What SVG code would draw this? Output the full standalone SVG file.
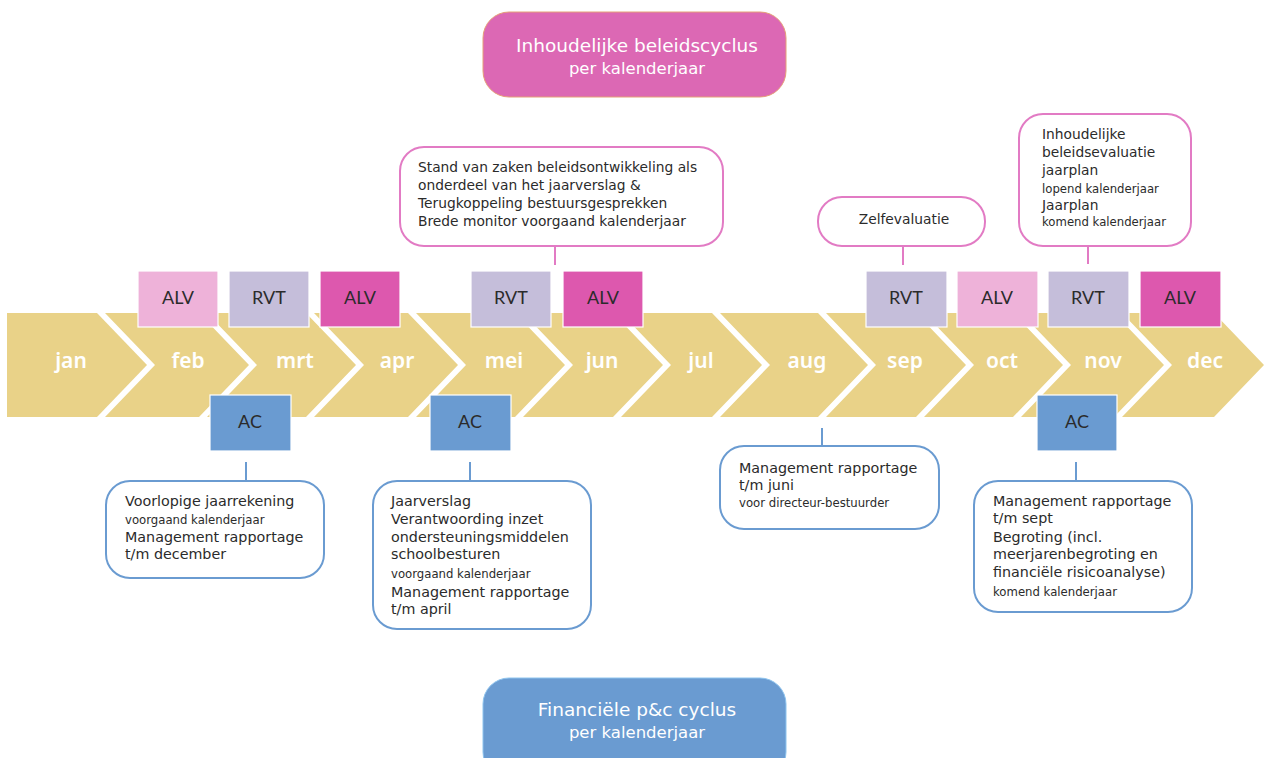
<svg xmlns="http://www.w3.org/2000/svg" width="1264" height="758" viewBox="0 0 1264 758">
<style>
.chev{fill:#E9D288}
.mon{font-family:"Noto Sans",Lato,sans-serif;font-weight:600;font-size:21px;fill:#fff;text-anchor:middle}
.tag{stroke:#fff;stroke-width:1.2}
.alv1{fill:#EEB2D9}
.alv2{fill:#DD58AE}
.rvt{fill:#C5BEDA}
.ac{fill:#6A9BD1}
.tl{font-family:Lato,"Noto Sans",sans-serif;font-size:18px;fill:#2b2b2b;text-anchor:middle}
.pbox{fill:#fff;stroke:#E27BC4;stroke-width:2}
.bbox{fill:#fff;stroke:#6A9BD1;stroke-width:2}
.t{font-family:"DejaVu Sans","Noto Sans",sans-serif;font-size:13.8px;fill:#2b2b2b}
.b{font-size:14.3px}
.s{font-size:11.7px}
.pl{stroke:#E27BC4;stroke-width:2;fill:none}
.bl{stroke:#6A9BD1;stroke-width:2;fill:none}
.hd{font-family:"DejaVu Sans","Noto Sans",sans-serif;fill:#fff;text-anchor:middle}
</style>
<rect width="1264" height="758" fill="#fff"/>
<g id="header">
<rect x="483" y="12" width="303" height="85" rx="26" fill="#DC68B4" stroke="#E5A078" stroke-width="1"/>
<text class="hd" x="637" y="52" font-size="18.5">Inhoudelijke beleidscyclus</text>
<text class="hd" x="637" y="74" font-size="16.5">per kalenderjaar</text>
</g>
<g id="footer">
<rect x="483" y="678" width="303" height="100" rx="26" fill="#6A9BD1" stroke="#8EC4EE" stroke-width="1"/>
<text class="hd" x="637" y="716" font-size="18.5">Financiële p&amp;c cyclus</text>
<text class="hd" x="637" y="738" font-size="16.5">per kalenderjaar</text>
</g>
<g id="months">
<g id="m-jan"><path class="chev" d="M7,313 H97 L147,365 L97,417 H7 Z"/><text class="mon" x="71" y="368">jan</text></g>
<g id="m-feb"><path class="chev" d="M105,313 H199 L249,365 L199,417 H105 L155,365 Z"/><text class="mon" x="188" y="368">feb</text></g>
<g id="m-mrt"><path class="chev" d="M207,313 H306 L356,365 L306,417 H207 L257,365 Z"/><text class="mon" x="295" y="368">mrt</text></g>
<g id="m-apr"><path class="chev" d="M314,313 H408 L458,365 L408,417 H314 L364,365 Z"/><text class="mon" x="397" y="368">apr</text></g>
<g id="m-mei"><path class="chev" d="M416,313 H515 L565,365 L515,417 H416 L466,365 Z"/><text class="mon" x="504" y="368">mei</text></g>
<g id="m-jun"><path class="chev" d="M523,313 H613 L663,365 L613,417 H523 L573,365 Z"/><text class="mon" x="602" y="368">jun</text></g>
<g id="m-jul"><path class="chev" d="M621,313 H712 L762,365 L712,417 H621 L671,365 Z"/><text class="mon" x="701" y="368">jul</text></g>
<g id="m-aug"><path class="chev" d="M720,313 H818 L868,365 L818,417 H720 L770,365 Z"/><text class="mon" x="807" y="368">aug</text></g>
<g id="m-sep"><path class="chev" d="M826,313 H916 L966,365 L916,417 H826 L876,365 Z"/><text class="mon" x="905" y="368">sep</text></g>
<g id="m-oct"><path class="chev" d="M924,313 H1013 L1063,365 L1013,417 H924 L974,365 Z"/><text class="mon" x="1002" y="368">oct</text></g>
<g id="m-nov"><path class="chev" d="M1021,313 H1114 L1164,365 L1114,417 H1021 L1071,365 Z"/><text class="mon" x="1103" y="368">nov</text></g>
<g id="m-dec"><path class="chev" d="M1122,313 H1214 L1264,365 L1214,417 H1122 L1172,365 Z"/><text class="mon" x="1205" y="368">dec</text></g>
</g>
<g id="connectors">
<line class="pl" x1="555" y1="246" x2="555" y2="265"/>
<line class="pl" x1="903" y1="246" x2="903" y2="265"/>
<line class="pl" x1="1088" y1="246" x2="1088" y2="264"/>
<line class="bl" x1="246" y1="462" x2="246" y2="481"/>
<line class="bl" x1="470" y1="462" x2="470" y2="481"/>
<line class="bl" x1="822" y1="428" x2="822" y2="446"/>
<line class="bl" x1="1076" y1="462" x2="1076" y2="481"/>
</g>
<g id="tag-alv-feb"><rect class="tag alv1" x="138" y="271" width="80" height="56"/><text class="tl" x="178" y="304">ALV</text></g>
<g id="tag-rvt-mrt"><rect class="tag rvt" x="229" y="271" width="80" height="56"/><text class="tl" x="269" y="304">RVT</text></g>
<g id="tag-alv-apr"><rect class="tag alv2" x="320" y="271" width="80" height="56"/><text class="tl" x="360" y="304">ALV</text></g>
<g id="tag-rvt-mei"><rect class="tag rvt" x="471" y="271" width="80" height="56"/><text class="tl" x="511" y="304">RVT</text></g>
<g id="tag-alv-jun"><rect class="tag alv2" x="563" y="271" width="80" height="56"/><text class="tl" x="603" y="304">ALV</text></g>
<g id="tag-rvt-sep"><rect class="tag rvt" x="866" y="271" width="81" height="56"/><text class="tl" x="906" y="304">RVT</text></g>
<g id="tag-alv-oct"><rect class="tag alv1" x="957" y="271" width="81" height="56"/><text class="tl" x="997" y="304">ALV</text></g>
<g id="tag-rvt-nov"><rect class="tag rvt" x="1048" y="271" width="81" height="56"/><text class="tl" x="1088" y="304">RVT</text></g>
<g id="tag-alv-dec"><rect class="tag alv2" x="1140" y="271" width="81" height="56"/><text class="tl" x="1180" y="304">ALV</text></g>
<g id="tag-ac-mrt"><rect class="tag ac" x="210" y="395" width="81" height="56"/><text class="tl" x="250" y="428">AC</text></g>
<g id="tag-ac-mei"><rect class="tag ac" x="430" y="395" width="81" height="56"/><text class="tl" x="470" y="428">AC</text></g>
<g id="tag-ac-nov"><rect class="tag ac" x="1037" y="395" width="80" height="56"/><text class="tl" x="1077" y="428">AC</text></g>
<g id="box-mei">
<rect class="pbox" x="400" y="147" width="323" height="99" rx="24"/>
<text class="t" x="418" y="172">Stand van zaken beleidsontwikkeling als</text>
<text class="t" x="418" y="190">onderdeel van het jaarverslag &amp;</text>
<text class="t" x="418" y="208">Terugkoppeling bestuursgesprekken</text>
<text class="t" x="418" y="226">Brede monitor voorgaand kalenderjaar</text>
</g>
<g id="box-sep">
<rect class="pbox" x="818" y="197" width="167" height="49" rx="24"/>
<text class="t" x="904" y="224" text-anchor="middle">Zelfevaluatie</text>
</g>
<g id="box-nov-top">
<rect class="pbox" x="1019" y="114" width="172" height="132" rx="24"/>
<text class="t" x="1042" y="139">Inhoudelijke</text>
<text class="t" x="1042" y="157">beleidsevaluatie</text>
<text class="t" x="1042" y="175">jaarplan</text>
<text class="t s" x="1042" y="193">lopend kalenderjaar</text>
<text class="t" x="1042" y="210">Jaarplan</text>
<text class="t s" x="1042" y="226">komend kalenderjaar</text>
</g>
<g id="box-mrt">
<rect class="bbox" x="106" y="481" width="218" height="97" rx="24"/>
<text class="t b" x="125" y="506">Voorlopige jaarrekening</text>
<text class="t s" x="125" y="524">voorgaand kalenderjaar</text>
<text class="t b" x="125" y="542">Management rapportage</text>
<text class="t b" x="125" y="559">t/m december</text>
</g>
<g id="box-mei-bottom">
<rect class="bbox" x="373" y="481" width="218" height="148" rx="24"/>
<text class="t b" x="391" y="506">Jaarverslag</text>
<text class="t b" x="391" y="524">Verantwoording inzet</text>
<text class="t b" x="391" y="542">ondersteuningsmiddelen</text>
<text class="t b" x="391" y="559">schoolbesturen</text>
<text class="t s" x="391" y="578">voorgaand kalenderjaar</text>
<text class="t b" x="391" y="597">Management rapportage</text>
<text class="t b" x="391" y="614">t/m april</text>
</g>
<g id="box-aug">
<rect class="bbox" x="720" y="446" width="219" height="83" rx="24"/>
<text class="t b" x="739" y="473">Management rapportage</text>
<text class="t b" x="739" y="490">t/m juni</text>
<text class="t s" x="739" y="507">voor directeur-bestuurder</text>
</g>
<g id="box-nov-bottom">
<rect class="bbox" x="974" y="481" width="218" height="131" rx="24"/>
<text class="t b" x="993" y="506">Management rapportage</text>
<text class="t b" x="993" y="523">t/m sept</text>
<text class="t b" x="993" y="542">Begroting (incl.</text>
<text class="t b" x="993" y="559">meerjarenbegroting en</text>
<text class="t b" x="993" y="577">financiële risicoanalyse)</text>
<text class="t s" x="993" y="596">komend kalenderjaar</text>
</g>
</svg>
